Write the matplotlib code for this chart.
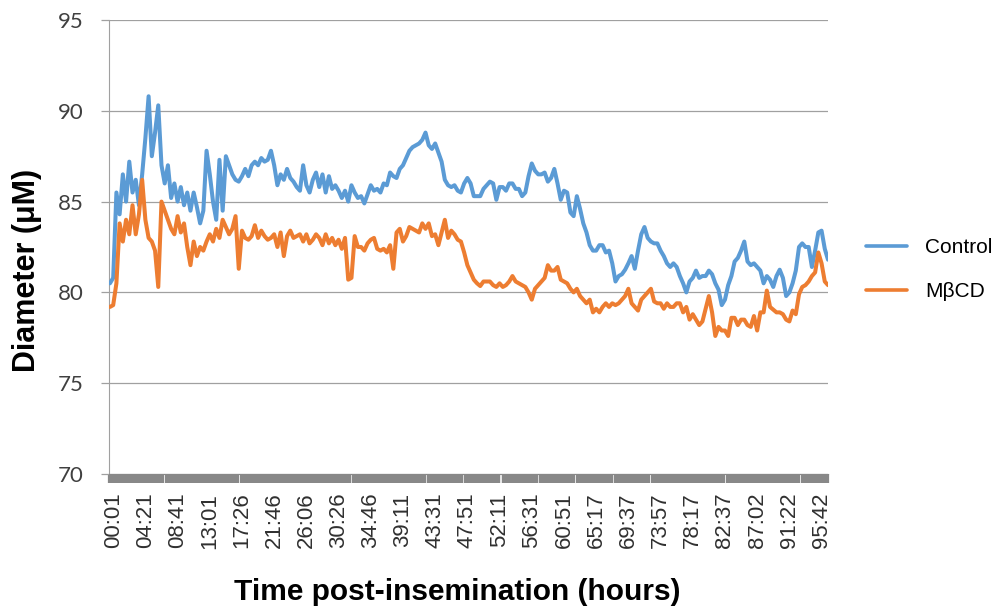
import numpy as np
import matplotlib
matplotlib.use("Agg")
import matplotlib.pyplot as plt
from matplotlib.ticker import FixedLocator

# ---------------- data ----------------
time_labels = ["00:01", "04:21", "08:41", "13:01", "17:26", "21:46", "26:06",
               "30:26", "34:46", "39:11", "43:31", "47:51", "52:11", "56:31",
               "60:51", "65:17", "69:37", "73:57", "78:17", "82:37", "87:02",
               "91:22", "95:42"]

control = [
    80.5,
    80.8, 85.5, 84.3, 86.5, 85.0, 87.2, 85.5, 86.2, 84.8, 86.5,
    88.5, 90.8, 87.5, 88.8, 90.3, 87.0, 86.0, 87.0, 85.2, 86.0,
    85.0, 85.8, 84.8, 85.5, 84.5, 85.5, 84.7, 83.8, 84.5, 87.8,
    86.5, 85.0, 84.0, 87.3, 84.5, 87.5,
    87.0, 86.5, 86.2, 86.1, 86.4, 86.8, 86.4, 87.0, 87.2, 87.0,
    87.4, 87.2, 87.3, 87.8, 87.0, 85.9, 86.5, 86.2, 86.8, 86.3,
    86.1, 85.8, 85.6, 87.0, 85.9, 85.5, 86.2, 86.6, 85.8, 86.5,
    85.5, 86.4, 85.7, 85.9, 85.6, 85.2, 85.6, 85.0,
    85.9, 85.5, 85.2, 85.3, 84.9, 85.4, 85.9, 85.6, 85.7, 85.5,
    86.0, 85.9, 86.6, 86.4, 86.3, 86.8, 87.0, 87.4, 87.8, 88.0,
    88.1, 88.2, 88.4, 88.8, 88.1, 87.9, 88.2, 87.7, 87.2, 86.2,
    85.9, 85.8, 85.9, 85.6, 85.5, 86.0, 86.3,
    86.0, 85.3, 85.3, 85.3, 85.7, 85.9, 86.1, 86.0, 85.1, 85.8,
    85.8, 85.6, 86.0, 86.0, 85.7, 85.7, 85.3, 85.5, 86.4, 87.1,
    86.7, 86.5, 86.5, 86.6, 86.1, 86.3, 86.8, 86.0, 85.1, 85.6,
    85.5, 84.4, 84.2, 85.3, 84.6, 83.8, 83.3, 82.6,
    82.3, 82.3, 82.6, 82.6, 82.2, 82.3, 81.6, 80.6, 80.9, 81.0,
    81.25, 81.6, 82.0, 81.3, 82.3, 83.2, 83.6, 83.0, 82.8, 82.7,
    82.7, 82.3, 82.0, 81.6, 81.4, 81.6, 81.4, 80.9, 80.5, 80.0,
    80.6, 80.8, 81.2, 80.8,
    80.9, 80.9, 81.2, 81.0, 80.5, 80.15, 79.3, 79.6, 80.4, 80.9,
    81.7, 81.9, 82.3, 82.8, 81.7, 81.5, 81.6, 81.4, 81.2, 80.5,
    80.9, 80.7, 80.3, 80.9, 81.25, 80.8, 79.8, 80.0, 80.5, 81.2,
    82.5, 82.7, 82.5, 82.5, 81.4, 82.3, 83.3, 83.4, 82.4, 81.8,
]

mbcd = [
    79.2,
    79.3, 80.5, 83.8, 82.8, 84.0, 83.2, 84.8, 83.2, 84.3, 86.2,
    84.0, 83.0, 82.8, 82.3, 80.3, 85.0, 84.5, 84.0, 83.5, 83.2,
    84.2, 83.3, 83.8, 82.5, 81.5, 82.8, 82.0, 82.5, 82.3, 82.8,
    83.2, 82.8, 83.5, 83.0, 84.0, 83.6,
    83.2, 83.5, 84.2, 81.3, 83.4, 83.0, 82.9, 83.1, 83.7, 83.0,
    83.4, 83.1, 82.9, 83.0, 83.2, 82.5, 83.3, 82.0, 83.1, 83.4,
    83.0, 83.1, 83.2, 82.8, 83.2, 82.7, 82.9, 83.2, 83.0, 82.6,
    83.2, 82.7, 83.0, 82.6, 82.9, 82.4, 83.0, 80.7,
    80.8, 83.1, 82.5, 82.5, 82.3, 82.7, 82.9, 83.0, 82.4, 82.3,
    82.4, 82.2, 82.6, 81.3, 83.3, 83.5, 82.8, 83.1, 83.6, 83.5,
    83.4, 83.3, 83.8, 83.5, 83.8, 83.1, 83.2, 82.6, 83.3, 84.0,
    83.0, 83.4, 83.2, 82.9, 82.8, 82.2, 81.5,
    81.1, 80.7, 80.5, 80.35, 80.6, 80.6, 80.6, 80.4, 80.3, 80.5,
    80.3, 80.4, 80.6, 80.9, 80.6, 80.5, 80.4, 80.3, 80.0, 79.6,
    80.2, 80.4, 80.6, 80.8, 81.5, 81.2, 81.2, 81.4, 80.7, 80.6,
    80.5, 80.2, 80.0, 80.2, 79.8, 79.6, 79.4, 79.6,
    78.9, 79.1, 78.9, 79.2, 79.4, 79.2, 79.4, 79.3, 79.4, 79.6,
    79.8, 80.2, 79.4, 79.2, 79.0, 79.6, 79.8, 80.0, 80.2, 79.5,
    79.4, 79.4, 79.1, 79.4, 79.2, 79.2, 79.4, 79.4, 78.9, 79.2,
    78.5, 78.8, 78.5, 78.2,
    78.4, 79.1, 79.8, 78.9, 77.6, 78.1, 77.9, 77.9, 77.6, 78.6,
    78.6, 78.2, 78.5, 78.5, 78.2, 78.1, 78.7, 77.9, 78.9, 78.9,
    80.1, 79.2, 79.05, 78.9, 78.9, 78.8, 78.5, 78.4, 79.0, 78.8,
    79.9, 80.3, 80.4, 80.6, 80.9, 81.1, 82.2, 81.6, 80.6, 80.4,
]

series_names = ["Control", "M\u03b2CD"]
series_colors = ["#5B9BD5", "#ED7D31"]
y_ticks = [70, 75, 80, 85, 90, 95]
label_stride = 10   # categories between labelled ticks
label_offset = 1

# ---------------- figure ----------------
W, H = 1006, 613
fig = plt.figure(figsize=(W / 100, H / 100), dpi=100)
L, R, T, B = 109, 828, 20, 474
ax = fig.add_axes([L / W, 1 - B / H, (R - L) / W, (B - T) / H])

n = len(control)
x = np.arange(n)
for vals, name, col in zip([control, mbcd], series_names, series_colors):
    ax.plot(x, vals, color=col, lw=2.9, label=name,
            solid_joinstyle="round", solid_capstyle="round", zorder=3)

ax.set_ylim(y_ticks[0], y_ticks[-1])
ax.set_xlim(-0.3, n - 1)
ax.set_yticks(y_ticks)
ax.grid(axis="y", color="#a0a0a0", lw=0.9)
ax.set_axisbelow(True)

for s in ["top", "right"]:
    ax.spines[s].set_visible(False)
ax.spines["left"].set_color("#a0a0a0")
ax.spines["bottom"].set_color("#888888")

ax.tick_params(axis="y", length=6, color="#a0a0a0", width=0.9, pad=12,
               labelsize=16, labelcolor="#404040")
for lbl in ax.get_yticklabels():
    lbl.set_fontfamily("Lato")

# x labels
label_pos = [label_offset + label_stride * k for k in range(len(time_labels))]
ax.set_xticks(label_pos)
ax.set_xticklabels(time_labels, rotation=90, fontsize=16,
                   family="Liberation Sans", color="#303030")
ax.tick_params(axis="x", which="major", length=6.5, width=0, pad=7)

# dense tick band along the category axis
ax.xaxis.remove_overlapping_locs = False
grid = np.arange(-0.3, n - 1, 0.25)
gaps = np.arange(5.3, n - 1, 11.62)
keep = [p for p in grid if np.min(np.abs(gaps - p)) > 0.3]
ax.xaxis.set_minor_locator(FixedLocator(keep))
ax.tick_params(axis="x", which="minor", length=6.5, width=1.6, color="#888888")

# axis titles
fig.text(457 / W, 1 - 592 / H, "Time post-insemination (hours)",
         ha="center", va="center", fontsize=21.5, fontweight="bold",
         family="Liberation Sans")
fig.text(27 / W, 1 - 270 / H, "Diameter (\u03bcM)", rotation=90,
         ha="center", va="center", fontsize=22, fontweight="bold",
         family="Liberation Sans")

leg = ax.legend(loc="upper left", bbox_to_anchor=(866 / W, 1 - 238 / H),
                bbox_transform=fig.transFigure, frameon=False,
                prop={"family": "Liberation Sans", "size": 15},
                handlelength=1.95, handletextpad=0.9, labelspacing=1.2,
                borderpad=0, borderaxespad=0)
for line in leg.get_lines():
    line.set_linewidth(2.6)

fig.savefig("out.png", dpi=100)
